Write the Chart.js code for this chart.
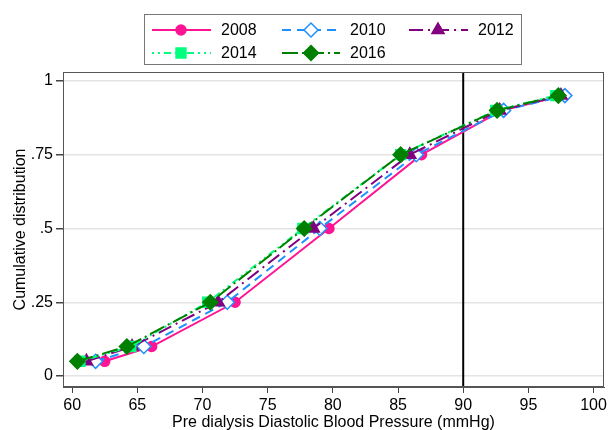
<!DOCTYPE html>
<html>
<head>
<meta charset="utf-8">
<script src="https://cdn.jsdelivr.net/npm/chart.js@4/dist/chart.umd.min.js"></script>
<style>
  html, body { margin: 0; padding: 0; background: #fff; }
  #wrap { width: 608px; height: 430px; }
</style>
</head>
<body>
<div id="wrap"><canvas id="grafico" width="608" height="430"></canvas></div>
<script>
// Percentiles (cumulative distribution) on y, blood pressure on x
const probs = [0.05, 0.10, 0.25, 0.50, 0.75, 0.90, 0.95];
const years = ['2008', '2010', '2012', '2014', '2016'];
const bp2008 = [62.5, 66.1, 72.5, 79.7, 86.8, 93.0, 97.7];
const bp2010 = [61.8, 65.5, 71.9, 79.0, 86.4, 93.1, 97.8];
const bp2012 = [61.1, 64.6, 71.2, 78.5, 85.9, 92.8, 97.5];
const bp2014 = [60.6, 64.5, 70.4, 77.7, 85.2, 92.5, 97.1];
const bp2016 = [60.4, 64.2, 70.6, 77.8, 85.2, 92.6, 97.3];
const xTicks = [60, 65, 70, 75, 80, 85, 90, 95, 100];
const yTicks = [0, 0.25, 0.5, 0.75, 1];
const yTickLabels = ['0', '.25', '.5', '.75', '1'];
const refLine = 90;

const FONT = 'Liberation Sans, Arial, sans-serif';

function puntos(xs) {
    return xs.map((x, i) => ({ x: x, y: probs[i] }));
}

const estilos = [
    { color: '#FF1493', fondo: '#FF1493', punto: 'circle', radio: 5, dash: [] },
    { color: '#1E90FF', fondo: '#FFFFFF', punto: 'rectRot', radio: 7, dash: [9, 6] },
    { color: '#800080', fondo: '#800080', punto: 'triangle', radio: 7, dash: [14, 5, 2, 5] },
    { color: '#00FF7F', fondo: '#00FF7F', punto: 'rect', radio: 7, dash: [2, 4, 2, 4, 7, 4] },
    { color: '#008000', fondo: '#008000', punto: 'rectRot', radio: 7.5, dash: [16, 4, 2, 4] }
];
const series = [bp2008, bp2010, bp2012, bp2014, bp2016];

const datasets = series.map((s, i) => ({
    label: years[i],
    data: puntos(s),
    borderColor: estilos[i].color,
    backgroundColor: estilos[i].fondo,
    borderWidth: 2,
    borderDash: estilos[i].dash,
    pointStyle: estilos[i].punto,
    pointRadius: estilos[i].radio,
    pointBorderWidth: 1.5,
    pointBorderColor: estilos[i].color,
    pointBackgroundColor: estilos[i].fondo,
    tension: 0,
    order: 5 - i
}));

// Marco, linea vertical en 90 y leyenda estilo Stata
const extras = {
    id: 'extras',
    beforeDatasetsDraw(chart) {
        const { ctx, chartArea: a, scales } = chart;
        const px = scales.x.getPixelForValue(refLine);
        ctx.save();
        ctx.strokeStyle = '#000';
        ctx.lineWidth = 2;
        ctx.beginPath();
        ctx.moveTo(px, a.top);
        ctx.lineTo(px, a.bottom);
        ctx.stroke();
        ctx.restore();
    },
    afterDraw(chart) {
        const { ctx, chartArea: a } = chart;
        ctx.save();
        ctx.strokeStyle = '#555';
        ctx.lineWidth = 1;
        ctx.strokeRect(a.left + 0.5, a.top + 0.5, a.right - a.left - 1, a.bottom - a.top - 1);

        // leyenda
        ctx.strokeStyle = '#777';
        ctx.strokeRect(144.5, 14.5, 377, 50);
        const cols = [[152, 211, 181, 221], [282, 340, 311, 350], [409, 468, 438, 478]];
        const filas = [30, 53];
        datasets.forEach((d, i) => {
            const c = cols[i % 3];
            const y = filas[Math.floor(i / 3)];
            ctx.save();
            ctx.strokeStyle = d.borderColor;
            ctx.lineWidth = 2;
            ctx.setLineDash(d.borderDash);
            ctx.beginPath();
            ctx.moveTo(c[0], y);
            ctx.lineTo(c[1], y);
            ctx.stroke();
            ctx.restore();
            ctx.save();
            ctx.strokeStyle = d.pointBorderColor;
            ctx.fillStyle = d.pointBackgroundColor;
            ctx.lineWidth = 1.5;
            Chart.helpers.drawPoint(ctx, { pointStyle: d.pointStyle, radius: d.pointRadius, borderWidth: 1.5, rotation: 0 }, c[2], y);
            ctx.restore();
            ctx.fillStyle = '#000';
            ctx.font = '16px ' + FONT;
            ctx.textBaseline = 'middle';
            ctx.textAlign = 'left';
            ctx.fillText(d.label, c[3], y + 1);
        });
        ctx.restore();
    }
};

new Chart(document.getElementById('grafico'), {
    type: 'line',
    data: { datasets: datasets },
    options: {
        responsive: false,
        animation: false,
        layout: { autoPadding: false, padding: { top: 72, right: 4, left: 0, bottom: 0 } },
        plugins: { legend: { display: false }, tooltip: { enabled: false } },
        scales: {
            x: {
                type: 'linear',
                min: 59.3,
                max: 100.8,
                afterBuildTicks: (s) => { s.ticks = xTicks.map(v => ({ value: v })); },
                afterFit: (s) => { s.height = 43; s.paddingLeft = 0; s.paddingRight = 0; },
                ticks: { color: '#000', font: { family: FONT, size: 16 }, padding: 3, maxRotation: 0 },
                grid: { drawOnChartArea: false, drawTicks: true, tickLength: 6, tickColor: '#444' },
                border: { display: true, color: '#555' },
                title: {
                    display: true,
                    text: 'Pre dialysis Diastolic Blood Pressure (mmHg)',
                    color: '#000',
                    font: { family: FONT, size: 16 },
                    padding: { top: 0, bottom: -2 }
                }
            },
            y: {
                type: 'linear',
                min: -0.037,
                max: 1.03,
                afterBuildTicks: (s) => { s.ticks = yTicks.map(v => ({ value: v })); },
                afterFit: (s) => { s.width = 63; s.paddingTop = 0; s.paddingBottom = 0; },
                ticks: {
                    color: '#000',
                    font: { family: FONT, size: 16 },
                    padding: 3,
                    callback: (v) => yTickLabels[yTicks.indexOf(v)]
                },
                grid: { color: '#E4E4E4', lineWidth: 1.5, drawTicks: true, tickLength: 7, tickColor: '#444' },
                border: { display: true, color: '#555' },
                title: {
                    display: true,
                    text: 'Cumulative distribution',
                    color: '#000',
                    font: { family: FONT, size: 16 },
                    padding: { top: 11, bottom: 0 }
                }
            }
        }
    },
    plugins: [extras]
});
</script>
</body>
</html>
